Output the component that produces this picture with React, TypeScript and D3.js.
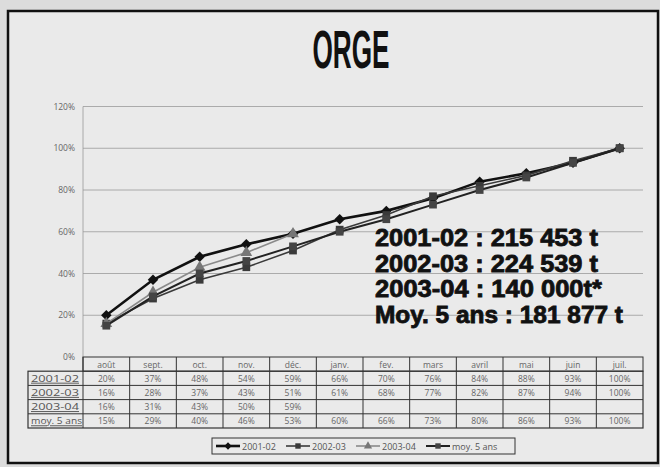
import * as d3 from 'd3';

// data
const months = ['août', 'sept.', 'oct.', 'nov.', 'déc.', 'janv.', 'fev.', 'mars', 'avril', 'mai', 'juin', 'juil.'];
const seriesNames = ['2001-02', '2002-03', '2003-04', 'moy. 5 ans'];
const v2001 = [20, 37, 48, 54, 59, 66, 70, 76, 84, 88, 93, 100];
const v2002 = [16, 28, 37, 43, 51, 61, 68, 77, 82, 87, 94, 100];
const v2003 = [16, 31, 43, 50, 59, null, null, null, null, null, null, null];
const vMoy = [15, 29, 40, 46, 53, 60, 66, 73, 80, 86, 93, 100];
const yTicks = [0, 20, 40, 60, 80, 100, 120];
const notes = ['2001-02 : 215 453 t', '2002-03 : 224 539 t', '2003-04 : 140 000t*', 'Moy. 5 ans : 181 877 t'];
const noteWidths = [223, 223, 227, 248];

const seriesValues = [v2001, v2002, v2003, vMoy];
const lineStyle = [
  { stroke: '#111', width: 2.6, marker: 'diamond', fill: '#111' },
  { stroke: '#3a3a3a', width: 1.6, marker: 'square', fill: '#3a3a3a' },
  { stroke: '#8a8a8a', width: 1.6, marker: 'triangle', fill: '#777' },
  { stroke: '#222', width: 2, marker: 'square', fill: '#444' }
];

const W = 660;
const H = 467;
const left = 83;
const right = 643;
const top = 106.5;
const bottom = 357;

const x = d3.scaleBand<string>().domain(months).range([left, right]);
const y = d3.scaleLinear().domain([0, 120]).range([bottom, top]);

const markerPath = (kind: string) => {
  const sym = kind === 'diamond' ? d3.symbolDiamond2 : kind === 'triangle' ? d3.symbolTriangle : d3.symbolSquare;
  return d3.symbol().type(sym).size(kind === 'diamond' ? 70 : 60)() as string;
};

const tableTop = 357;
const rowH = 14.2;
const labelLeft = 28;

export default function App() {
  const line = d3.line<number | null>()
    .defined(d => d !== null)
    .x((_, i) => (x(months[i]) as number) + x.bandwidth() / 2)
    .y(d => y(d as number));

  return (
    <svg width={W} height={H} style={{ position: 'absolute', left: 0, top: 0 }}
      fontFamily="'Open Sans', 'DejaVu Sans', sans-serif">
      <rect x={0} y={0} width={W} height={H} fill="#dcdcdc" />
      <rect x={8} y={11} width={650} height={452} fill="#eaeaea" stroke="#111" strokeWidth={2.5} />

      <text x={351} y={68} textAnchor="middle" fontFamily="'Liberation Sans Narrow', 'Liberation Sans', sans-serif"
        fontWeight="bold" fontSize={54} textLength={77} lengthAdjust="spacingAndGlyphs" fill="#111">ORGE</text>

      {/* grid + y axis */}
      {yTicks.map(t => (
        <g key={t}>
          {t > 0 && <line x1={left} x2={right} y1={y(t)} y2={y(t)} stroke="#9a9a9a" strokeWidth={0.8} />}
          <text x={75} y={y(t) + 3} textAnchor="end" fontSize={8.5} fill="#666">{t}%</text>
        </g>
      ))}
      <line x1={left} x2={left} y1={top} y2={bottom} stroke="#9a9a9a" strokeWidth={0.8} />

      {/* series */}
      {seriesValues.map((vals, si) => (
        <g key={si}>
          <path d={line(vals) as string} fill="none" stroke={lineStyle[si].stroke} strokeWidth={lineStyle[si].width} />
          {vals.map((v, i) => v === null ? null : (
            <path key={i} d={markerPath(lineStyle[si].marker)} fill={lineStyle[si].fill}
              transform={`translate(${(x(months[i]) as number) + x.bandwidth() / 2},${y(v)})`} />
          ))}
        </g>
      ))}

      {/* totals */}
      {notes.map((n, i) => (
        <text key={n} x={375} y={246 + i * 25.5} fontFamily="'Liberation Sans', Arial, sans-serif" fontWeight="bold"
          fontSize={23} fill="#111" stroke="#111" strokeWidth={0.8}
          textLength={noteWidths[i]} lengthAdjust="spacingAndGlyphs">{n}</text>
      ))}

      {/* data table */}
      <g fontSize={8.5} fill="#555">
        <rect x={left} y={tableTop} width={right - left} height={rowH} fill="none" stroke="#333" strokeWidth={1} />
        <rect x={labelLeft} y={tableTop + rowH} width={right - labelLeft} height={rowH * 4} fill="none" stroke="#333" strokeWidth={1.2} />
        {d3.range(1, 4).map(r => (
          <line key={r} x1={labelLeft} x2={right} y1={tableTop + rowH * (r + 1)} y2={tableTop + rowH * (r + 1)} stroke="#333" strokeWidth={1} />
        ))}
        {months.map((m, i) => (
          <g key={m}>
            <line x1={x(m) as number} x2={x(m) as number} y1={tableTop} y2={tableTop + rowH * 5} stroke="#333" strokeWidth={1} />
            <text x={(x(m) as number) + x.bandwidth() / 2} y={tableTop + 10.5} textAnchor="middle" fill="#666">{m}</text>
            {seriesValues.map((vals, si) => vals[i] === null ? null : (
              <text key={si} x={(x(m) as number) + x.bandwidth() / 2} y={tableTop + rowH * (si + 1) + 10.5}
                textAnchor="middle" fill="#666">{vals[i]}%</text>
            ))}
          </g>
        ))}
        {seriesNames.map((s, si) => (
          <text key={s} x={labelLeft + 3} y={tableTop + rowH * (si + 1) + 10.5} fontSize={9.5} fill="#555"
            textDecoration="underline" textLength={si === 3 ? 51 : 48} lengthAdjust="spacingAndGlyphs">{s}</text>
        ))}
      </g>

      {/* legend */}
      <rect x={212} y={438} width={303} height={16} fill="#eaeaea" stroke="#333" strokeWidth={1} />
      {seriesNames.map((s, si) => {
        const lx = 216 + si * 70;
        const ly = 446;
        return (
          <g key={s}>
            <line x1={lx} x2={lx + 24} y1={ly} y2={ly} stroke={lineStyle[si].stroke} strokeWidth={lineStyle[si].width} />
            <path d={markerPath(lineStyle[si].marker)} fill={lineStyle[si].fill} transform={`translate(${lx + 12},${ly}) scale(0.7)`} />
            <text x={lx + 26} y={ly + 3.5} fontSize={9} fill="#555">{s}</text>
          </g>
        );
      })}
    </svg>
  );
}
